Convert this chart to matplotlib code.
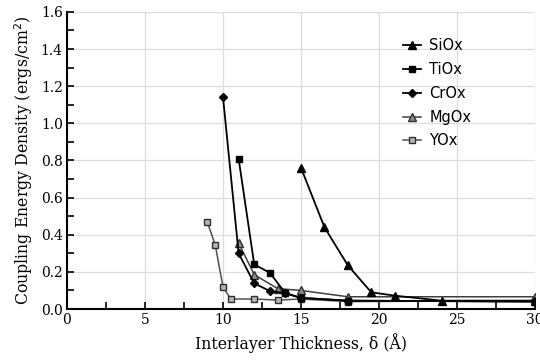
import matplotlib.pyplot as plt
from matplotlib.ticker import MultipleLocator

# data
siox_x = [15, 16.5, 18, 19.5, 21, 24, 30]
siox_y = [0.76, 0.44, 0.235, 0.09, 0.072, 0.045, 0.045]

tiox_x = [11, 12, 13, 14, 15, 18, 30]
tiox_y = [0.81, 0.24, 0.195, 0.085, 0.06, 0.045, 0.04]

crox_x = [10, 11, 12, 13, 14, 15, 18, 30]
crox_y = [1.14, 0.30, 0.138, 0.097, 0.085, 0.06, 0.045, 0.04]

mgox_x = [11, 12, 13.5, 15, 18, 30]
mgox_y = [0.355, 0.185, 0.11, 0.10, 0.066, 0.066]

yox_x = [9, 9.5, 10, 10.5, 12, 13.5, 15, 18, 30]
yox_y = [0.467, 0.346, 0.118, 0.054, 0.054, 0.048, 0.054, 0.04, 0.045]

plt.rcParams['font.family'] = ['DejaVu Serif']

fig = plt.figure(figsize=(5.4, 3.61), dpi=100)
ax = fig.add_axes([0.124, 0.144, 0.867, 0.823])

ms = 5
ax.plot(siox_x, siox_y, color='black', lw=1.3, marker='^', ms=ms + 1, mfc='black', mec='black', label='SiOx', zorder=5)
ax.plot(tiox_x, tiox_y, color='black', lw=1.3, marker='s', ms=ms, mfc='black', mec='black', label='TiOx', zorder=5)
ax.plot(crox_x, crox_y, color='black', lw=1.3, marker='D', ms=ms - 0.5, mfc='black', mec='black', label='CrOx', zorder=5)
ax.plot(mgox_x, mgox_y, color='#404040', lw=1.1, marker='^', ms=ms + 1, mfc='#8c8c8c', mec='#303030', label='MgOx', zorder=4)
ax.plot(yox_x, yox_y, color='#505050', lw=1.1, marker='s', ms=ms, mfc='#b4b4b4', mec='#303030', label='YOx', zorder=4)

ax.set_xlim(0, 30)
ax.set_ylim(0, 1.6)
ax.xaxis.set_major_locator(MultipleLocator(5))
ax.xaxis.set_minor_locator(MultipleLocator(2.5))
ax.yaxis.set_major_locator(MultipleLocator(0.2))
ax.yaxis.set_minor_locator(MultipleLocator(0.1))
ax.yaxis.set_major_formatter(plt.FormatStrFormatter('%.1f'))
ax.grid(True, which='major', color='#dddddd', lw=0.9)
ax.set_axisbelow(True)
ax.tick_params(which='both', direction='in', width=1.2, labelsize=10, pad=3)
ax.tick_params(which='major', length=5)
ax.tick_params(which='minor', length=5)
for s in ['top', 'right']:
    ax.spines[s].set_visible(False)
for s in ['left', 'bottom']:
    ax.spines[s].set_linewidth(1.5)

ax.set_xlabel('Interlayer Thickness, δ (Å)', fontsize=11.3)
ax.set_ylabel('Coupling Energy Density (ergs/cm$^2$)', fontsize=11.3)

leg = ax.legend(loc='upper left', bbox_to_anchor=(0.69, 0.955), frameon=False,
                prop={'family': 'DejaVu Sans', 'size': 10.5}, handlelength=1.2,
                handletextpad=0.6, labelspacing=0.6, markerscale=0.9)

fig.savefig('out.png', dpi=100)
